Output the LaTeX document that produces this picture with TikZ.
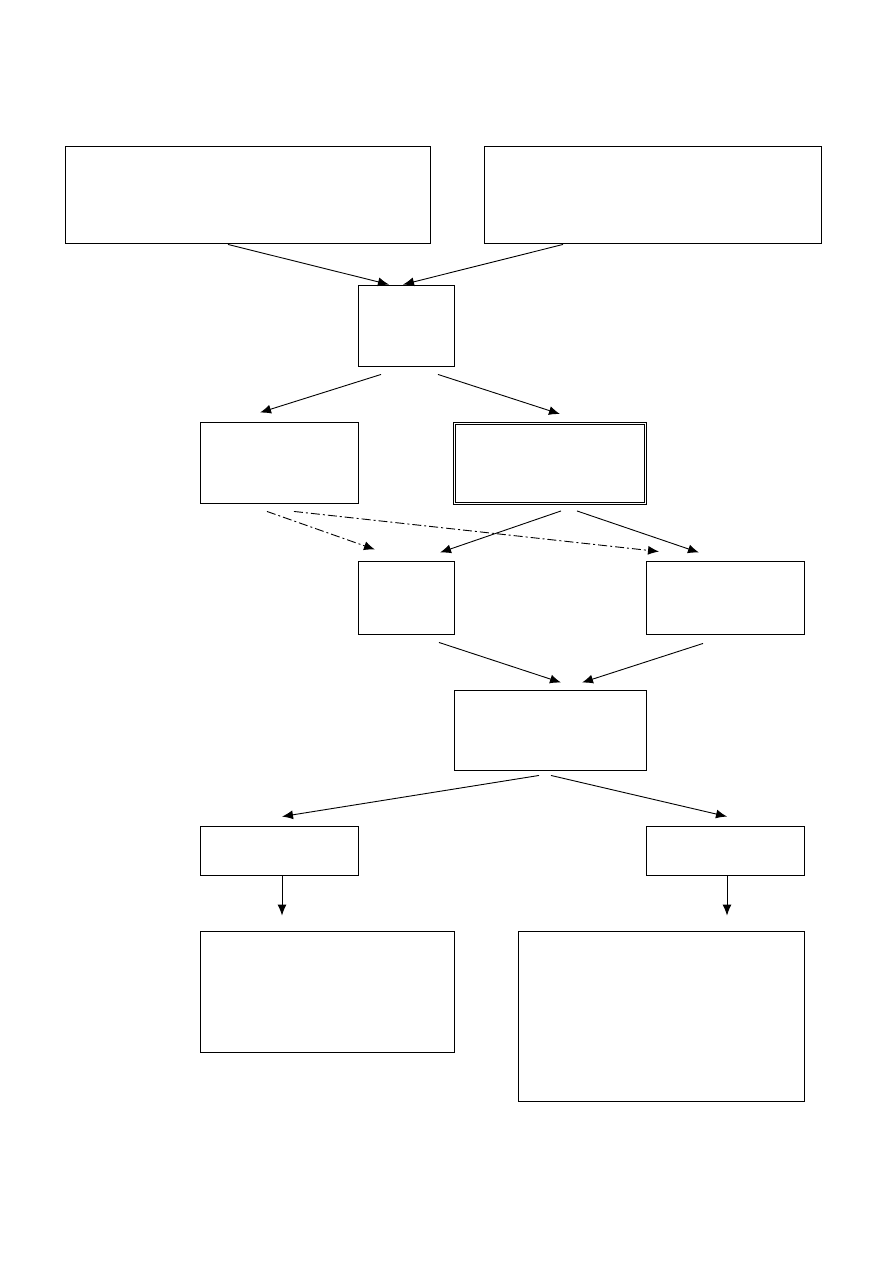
\documentclass[tikz,border=0pt]{standalone}
\usepackage{tikz}
\usetikzlibrary{arrows.meta,positioning,calc}

\tikzset{
  box/.style={draw, line width=0.9pt, rectangle, inner sep=0pt},
  dbox/.style={box, double, double distance=1pt, line width=0.9pt},
  arr/.style={line width=0.9pt, -{Latex[length=11pt,width=9pt]}},
  darr/.style={arr, dash pattern=on 9pt off 3pt on 2pt off 3pt}
}

\begin{document}
\begin{tikzpicture}[x=1pt,y=-1pt]
        \useasboundingbox (0,0) rectangle (893,1263);

        % Top row
        \node[box, minimum width=365, minimum height=97] (A) at (247.5,194.5) {};
        \node[box, minimum width=337, minimum height=97] (B) at (652.5,194.5) {};

        % Centre box
        \node[box, minimum width=96, minimum height=81] (C) at (406,325.5) {};

        % Second row
        \node[box, minimum width=158, minimum height=81] (D) at (279,462.5) {};
        \node[dbox, minimum width=191, minimum height=80] (E) at (550,463.5) {};

        % Third row
        \node[box, minimum width=96, minimum height=73] (F) at (406,597.5) {};
        \node[box, minimum width=158, minimum height=73] (G) at (725,597.5) {};

        % Merge box
        \node[box, minimum width=192, minimum height=80] (H) at (550,730) {};

        % Branches
        \node[box, minimum width=158, minimum height=49] (I) at (279,850.5) {};
        \node[box, minimum width=158, minimum height=49] (J) at (725,850.5) {};
        \node[box, minimum width=254, minimum height=121] (K) at (327,991.5) {};
        \node[box, minimum width=286, minimum height=170] (L) at (661,1016) {};

        % Arrows into the centre box
        \draw[arr] ([xshift=-19.5pt,yshift=-1pt]A.south) -- ([xshift=-17pt]C.north);
        \draw[arr] ([xshift=-89.5pt,yshift=-1pt]B.south) -- ([xshift=-3pt]C.north);

        % Centre box to second row
        \draw[arr] ([xshift=-25pt,yshift=-8pt]C.south) -- ([xshift=-19pt,yshift=9pt]D.north);
        \draw[arr] ([xshift=32pt,yshift=-8pt]C.south) -- ([xshift=10pt,yshift=9pt]E.north);

        % Dash-dotted links
        \draw[darr] ([xshift=-12pt,yshift=-8pt]D.south) -- ([xshift=-31pt,yshift=11pt]F.north);
        \draw[darr] ([xshift=15pt,yshift=-8pt]D.south) -- ([xshift=-66pt,yshift=9pt]G.north);

        % Double box to third row
        \draw[arr] ([xshift=11pt,yshift=-7pt]E.south) -- ([xshift=34pt,yshift=8pt]F.north);
        \draw[arr] ([xshift=27pt,yshift=-7pt]E.south) -- ([xshift=-26pt,yshift=8pt]G.north);

        % Third row to merge box
        \draw[arr] ([xshift=33pt,yshift=-8pt]F.south) -- ([xshift=11pt,yshift=7pt]H.north);
        \draw[arr] ([xshift=-22pt,yshift=-9pt]G.south) -- ([xshift=32pt,yshift=7pt]H.north);

        % Merge box to branches
        \draw[arr] ([xshift=-11pt,yshift=-5pt]H.south) -- ([xshift=3pt,yshift=9pt]I.north);
        \draw[arr] ([xshift=1pt,yshift=-5pt]H.south) -- ([xshift=2pt,yshift=9pt]J.north);

        % Down to the bottom boxes
        \draw[arr] ([xshift=3pt]I.south) -- ([xshift=-45pt,yshift=15pt]K.north);
        \draw[arr] ([xshift=2pt]J.south) -- ([xshift=66pt,yshift=15pt]L.north);

      \end{tikzpicture}
\end{document}
